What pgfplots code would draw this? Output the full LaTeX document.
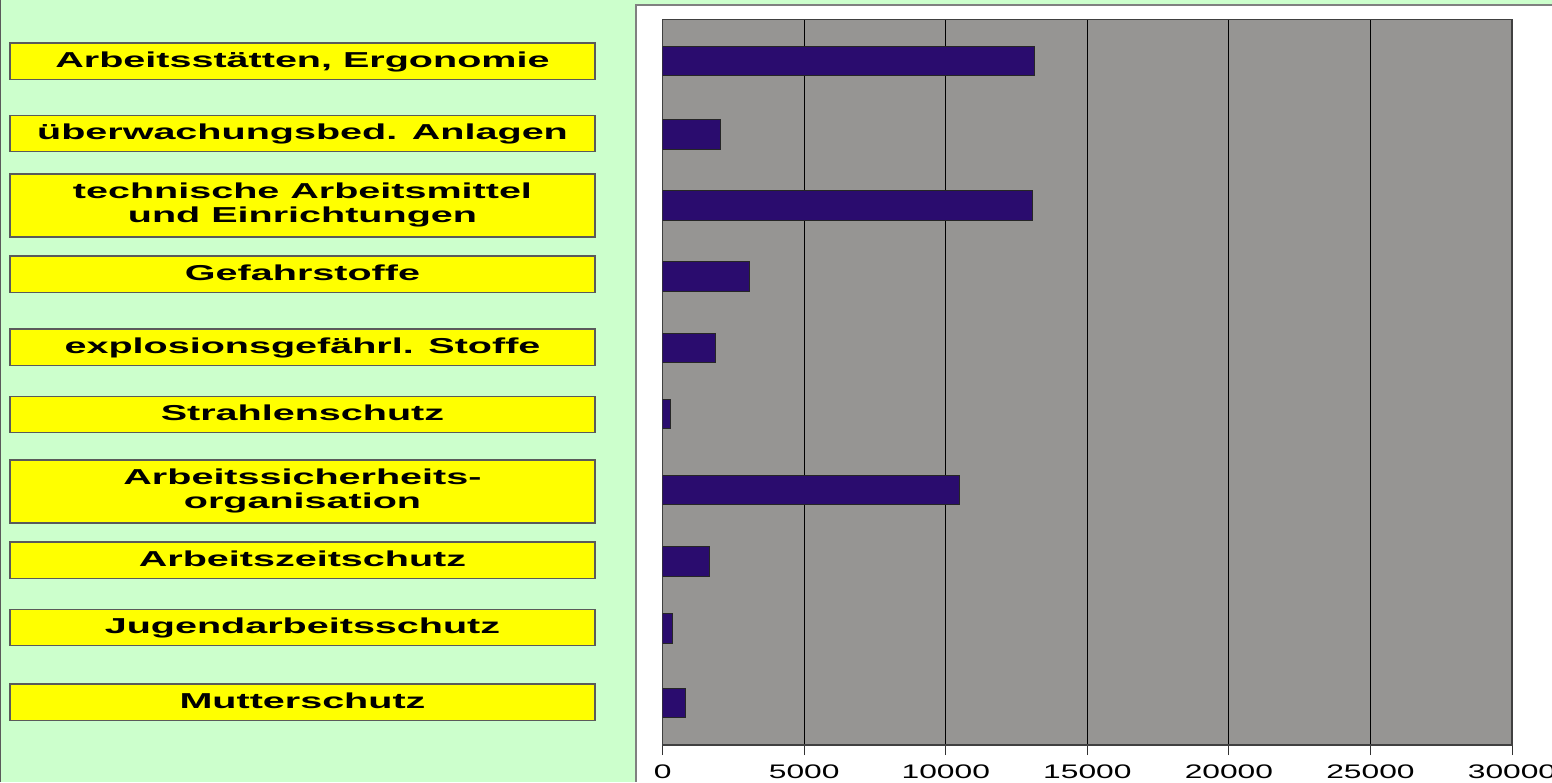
\documentclass[border=0pt]{standalone}
\usepackage{pgfplots}
\pgfplotsset{compat=1.18}
\usepackage{fontspec}
\setmainfont{Liberation Sans}
\newfontfamily\labelfont[FakeStretch=1.83]{Liberation Sans}
\newfontfamily\tickfont[FakeStretch=1.62]{Liberation Sans}
\definecolor{bggreen}{RGB}{204,255,204}
\definecolor{plotgray}{RGB}{150,149,147}
\definecolor{barblue}{RGB}{42,12,110}
\definecolor{boxyellow}{RGB}{255,255,0}
\definecolor{frameg}{RGB}{90,90,90}
\newcommand\sgl[1]{\rule[-5.9pt]{0pt}{18.1pt}#1}
\newcommand\dbl[2]{\rule{0pt}{12.2pt}#1\\#2\rule[-7.3pt]{0pt}{7.3pt}}
\begin{document}
\begin{tikzpicture}
\path[use as bounding box] (0,0) rectangle (776pt,-391pt);
\fill[bggreen] (0,0) rectangle (776pt,-391pt);
\draw[frameg, line width=0.7pt] (0.35pt,0) -- (0.35pt,-391pt);
\fill[white] (317.85pt,-2.6pt) rectangle (776pt,-391pt);
\draw[gray, line width=0.8pt] (776pt,-2.6pt) -- (317.85pt,-2.6pt) -- (317.85pt,-391pt);
\begin{axis}[
  at={(331.35pt,-372.5pt)}, anchor=south west,
  scale only axis,
  width=424.65pt, height=362.75pt,
  xmin=0, xmax=30000,
  ymin=19.5, ymax=745,
  y dir=reverse,
  axis background/.style={fill=plotgray},
  axis line style={draw=black!75, line width=0.6pt},
  xmajorgrids,
  major grid style={black, line width=0.5pt},
  xtick={0,5000,10000,15000,20000,25000,30000},
  xticklabels={0,5000,10000,15000,20000,25000,30000},
  x tick style={black!80, line width=0.5pt},
  major tick length=5pt,
  tick align=outside,
  xtick pos=bottom,
  xticklabel style={font=\tickfont\fontsize{9.8}{11}\selectfont, inner sep=0pt, anchor=north, yshift=-4.6pt},
  ytick={61,133.5,205.5,274,347,414.5,491.5,560,627.5,702},
  yticklabels={
    {\sgl{Arbeitsstätten, Ergonomie}},
    {\sgl{überwachungsbed. Anlagen}},
    {\dbl{technische Arbeitsmittel}{und Einrichtungen}},
    {\sgl{Gefahrstoffe}},
    {\sgl{explosionsgefährl. Stoffe}},
    {\sgl{Strahlenschutz}},
    {\dbl{Arbeitssicherheits-}{organisation}},
    {\sgl{Arbeitszeitschutz}},
    {\sgl{Jugendarbeitsschutz}},
    {\sgl{Mutterschutz}}},
  y tick style={draw=none},
  ytick pos=left,
  yticklabel style={font=\labelfont\bfseries\fontsize{10.8}{12}\selectfont,
    fill=boxyellow, draw=frameg, line width=0.6pt,
    minimum width=292.5pt, inner sep=0pt, outer sep=0pt,
    align=center, anchor=east, xshift=-28.85pt},
]
\addplot[xbar, bar width=29.5, fill=barblue, draw=black!85, line width=0.5pt]
coordinates {
  (13150,61) (2030,134.5) (13060,205.5) (3080,276.5) (1880,348)
  (270,414) (10490,490) (1650,561.5) (355,628.5) (815,703)
};
\end{axis}
\end{tikzpicture}
\end{document}
